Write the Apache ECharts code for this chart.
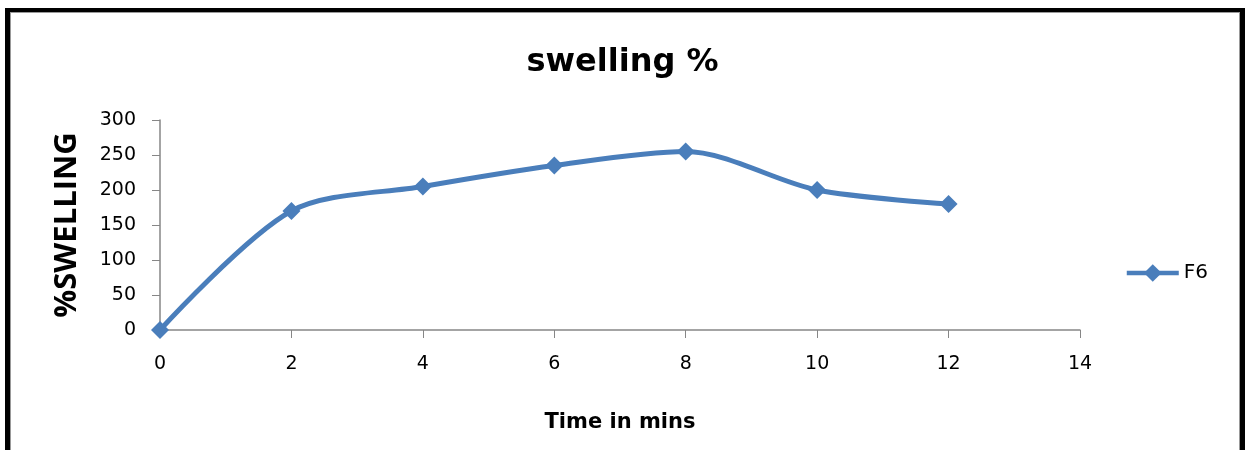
<!DOCTYPE html>
<html><head><meta charset="utf-8">
<script src="https://cdn.jsdelivr.net/npm/echarts@6/dist/echarts.min.js"></script>
<style>
html,body{margin:0;padding:0;background:#fff;}
#wrap{position:relative;width:1245px;height:450px;overflow:hidden;}
#chart{position:absolute;left:0;top:0;width:1245px;height:450px;}
#frame{position:absolute;left:5px;top:8px;width:1230px;height:460px;border:5px solid #000;border-top-width:4px;border-bottom:none;pointer-events:none;}
#inner{position:absolute;left:0;top:0;right:0;bottom:0;border:1px solid #999;border-bottom:none;}
</style></head>
<body><div id="wrap"><div id="chart"></div><div id="frame"><div id="inner"></div></div></div>
<script>
const times = [0, 2, 4, 6, 8, 10, 12];
const swellingF6 = [0, 170, 205, 235, 255, 200, 180];
const seriesName = 'F6';
const titleText = 'swelling %';
const xName = 'Time in mins';
const yName = '%SWELLING';
const font = '"DejaVu Sans", sans-serif';
const chart = echarts.init(document.getElementById('chart'));
chart.setOption({
  animation: false,
  title: {text: titleText, left: 'center', top: 42, textStyle: {fontFamily: font, fontSize: 32, fontWeight: 'bold', color: '#000'}},
  legend: {right: 32, top: 258, itemWidth: 52, itemHeight: 22, itemGap: 5,
    lineStyle: {width: 4.5, color: '#4A7EBB'},
    textStyle: {fontFamily: font, fontSize: 20, color: '#000'}, data: [seriesName]},
  grid: {left: 160, right: 165, top: 120, bottom: 120},
  xAxis: {type: 'value', min: 0, max: 14, interval: 2, name: xName, nameLocation: 'middle', nameGap: 82,
    nameTextStyle: {fontFamily: font, fontSize: 21, fontWeight: 'bold', color: '#000'},
    axisLine: {lineStyle: {color: '#868686', width: 1.5}}, axisTick: {show: true, length: 8, lineStyle: {color: '#868686'}},
    axisLabel: {fontFamily: font, fontSize: 19, color: '#000', margin: 25}, splitLine: {show: false}},
  yAxis: {type: 'value', min: 0, max: 300, interval: 50, name: yName, nameLocation: 'middle', nameGap: 77, nameRotate: 90,
    nameTextStyle: {fontFamily: '"Open Sans", sans-serif', fontSize: 31, fontWeight: 'bold', color: '#000'},
    axisLine: {show: true, lineStyle: {color: '#868686', width: 1.5}}, axisTick: {show: true, length: 8, lineStyle: {color: '#868686'}},
    axisLabel: {fontFamily: font, fontSize: 19, color: '#000', margin: 24}, splitLine: {show: false}},
  series: [{name: seriesName, type: 'line', smooth: 0.3, data: times.map((t, i) => [t, swellingF6[i]]),
    symbol: 'diamond', symbolSize: 18, lineStyle: {color: '#4A7EBB', width: 5}, itemStyle: {color: '#4A7EBB'}}]
});
</script></body></html>
